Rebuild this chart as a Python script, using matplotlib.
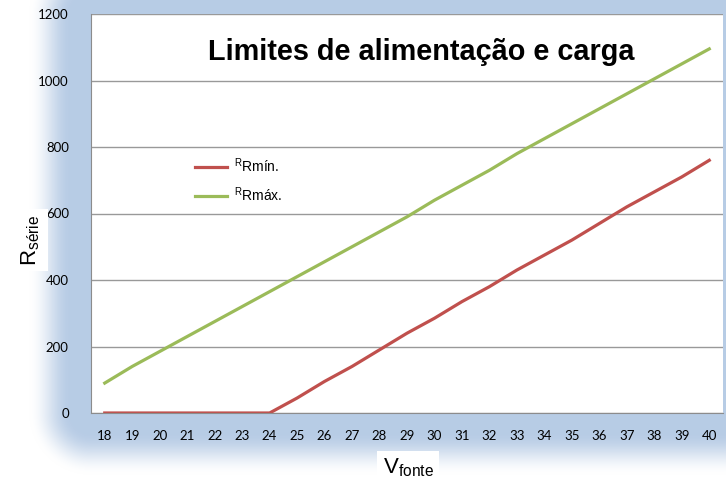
import numpy as np
import matplotlib
matplotlib.use("Agg")
import matplotlib.pyplot as plt

# data
v_fonte = list(range(18, 41))
r_min = [0, 0, 0, 0, 0, 0, 0, 45, 95, 140, 190, 240, 285, 335, 380, 430,
         475, 520, 570, 620, 665, 710, 760]
r_max = [90, 140, 185, 230, 275, 320, 365, 410, 455, 500, 545, 590, 640,
         685, 730, 780, 825, 870, 915, 960, 1005, 1050, 1095]
y_ticks = [0, 200, 400, 600, 800, 1000, 1200]

W, H = 726, 491
fig = plt.figure(figsize=(W / 100, H / 100), dpi=100)

# soft blue glow around the plot area
x0, x1, y0, y1 = 91, 723, 14, 413
xx, yy = np.meshgrid(np.arange(W) + 0.5, np.arange(H) + 0.5)
dx = np.maximum(np.maximum(x0 - xx, 0), xx - x1)
dy = np.maximum(np.maximum(y0 - yy, 0), yy - y1)
d = np.hypot(dx, dy)
a = np.clip((62 - d) / 42, 0, 1)
a = a * a * (3 - 2 * a)
glow = np.array([0.72, 0.80, 0.90])
img = np.ones((H, W, 3)) * (1 - a[..., None]) + glow * a[..., None]
bg = fig.add_axes([0, 0, 1, 1], zorder=-1)
bg.imshow(img, extent=(0, W, H, 0), aspect="auto")
bg.axis("off")

ax = fig.add_axes([x0 / W, 1 - y1 / H, (x1 - x0) / W, (y1 - y0) / H])
ax.set_facecolor("white")
pos = np.arange(len(v_fonte))
ax.plot(pos, r_min, color="#c0504d", lw=2.3, label=r"$^{\mathregular{R}}$" + "Rmín.")
ax.plot(pos, r_max, color="#9bbb59", lw=2.3, label=r"$^{\mathregular{R}}$" + "Rmáx.")

ax.set_xlim(-0.5, len(v_fonte) - 0.5)
ax.set_ylim(0, 1200)
ax.set_yticks(y_ticks)
ax.set_xticks(pos)
ax.set_xticklabels([str(v) for v in v_fonte], fontfamily="Lato", fontsize=9.5)
ax.set_yticklabels([str(v) for v in y_ticks], fontfamily="Lato", fontsize=9.5)
ax.tick_params(axis="both", length=0, pad=12)
ax.tick_params(axis="y", pad=16)
ax.grid(axis="y", color="#999999", lw=1)
ax.set_axisbelow(True)
for s in ["top", "right"]:
    ax.spines[s].set_visible(False)
for s in ["left", "bottom"]:
    ax.spines[s].set_color("#8c8c8c")

fig.text(421 / W, 1 - 52 / H, "Limites de alimentação e carga", fontfamily="Liberation Sans",
         fontweight="bold", fontsize=20.8, ha="center", va="center")

leg = ax.legend(loc="upper left", bbox_to_anchor=(0.145, 0.675), frameon=False,
                prop={"family": "Liberation Sans", "size": 10}, handlelength=2.3,
                handletextpad=0.5, labelspacing=0.75)

fig.text(31 / W, 1 - 240 / H, r"R$_{\mathregular{série}}$", rotation=90, fontfamily="Liberation Sans",
         fontsize=16, ha="center", va="center",
         bbox=dict(facecolor="white", edgecolor="none", pad=4))
fig.text(408 / W, 1 - 468 / H, r"V$_{\mathregular{fonte}}$", fontfamily="Liberation Sans",
         fontsize=16, ha="center", va="center",
         bbox=dict(facecolor="white", edgecolor="none", pad=4))

fig.savefig("out.png", dpi=100)
